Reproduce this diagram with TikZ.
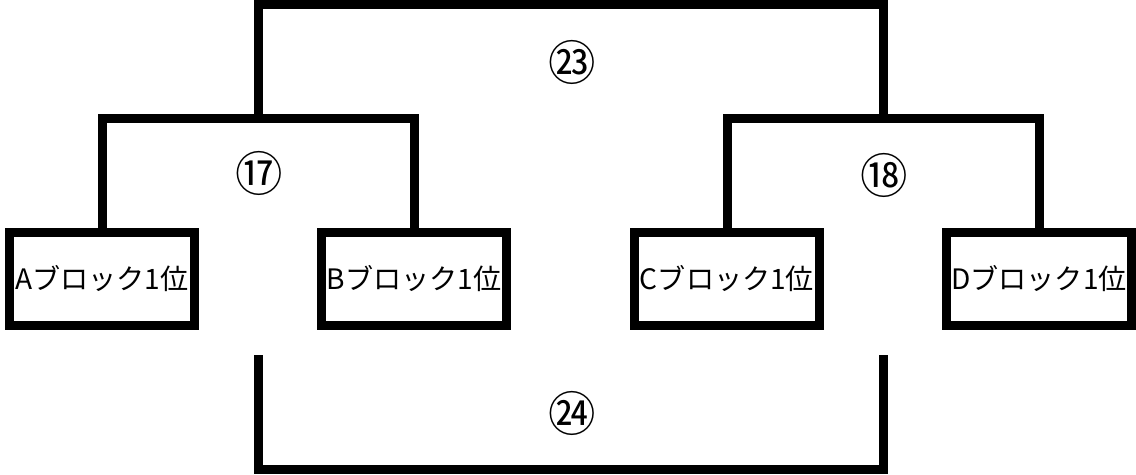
\documentclass[tikz,border=0pt]{standalone}
\usepackage{fontspec}
\setmainfont{Noto Sans CJK JP}
\usepackage{tikz}
\usetikzlibrary{positioning, calc}

\begin{document}
\begin{tikzpicture}[x=0.02cm, y=-0.02cm,
    blk/.style={rectangle, draw=black, line width=0.18cm, minimum width=3.7cm, minimum height=1.86cm,
      inner sep=0pt, font=\fontsize{16}{18}\selectfont},
    tline/.style={draw=black, line width=0.18cm},
    mnum/.style={inner sep=0pt, font=\fontsize{27}{30}\selectfont}
  ]
  \useasboundingbox (0,0) rectangle (1136,474);
  % blocks
  \node[blk] (a) at (102,279) {Aブロック1位};
  \node[blk] (b) at (414,279) {Bブロック1位};
  \node[blk] (c) at (727,279) {Cブロック1位};
  \node[blk] (d) at (1039,279) {Dブロック1位};
  % bracket joints
  \coordinate (m17) at (258,118);
  \coordinate (m18) at (883,118);
  \coordinate (top) at (570,4);
  \coordinate (s1) at (258,355);
  \coordinate (s2) at (883,355);
  \coordinate (bot) at (570,469);
  \draw[tline] (a.north) -- (a.north |- m17) -- (b.north |- m17) -- (b.north);
  \draw[tline] (c.north) -- (c.north |- m18) -- (d.north |- m18) -- (d.north);
  \draw[tline] (m17) -- (m17 |- top) -- (m18 |- top) -- (m18);
  \draw[tline] (s1) -- (s1 |- bot) -- (s2 |- bot) -- (s2);
  % match numbers
  \node[mnum] (n17) at (259,173) {⑰};
  \node[mnum] (n18) at (884,175) {⑱};
  \node[mnum] (n23) at (572,62) {㉓};
  \node[mnum] (n24) at (572,413) {㉔};
\end{tikzpicture}
\end{document}
